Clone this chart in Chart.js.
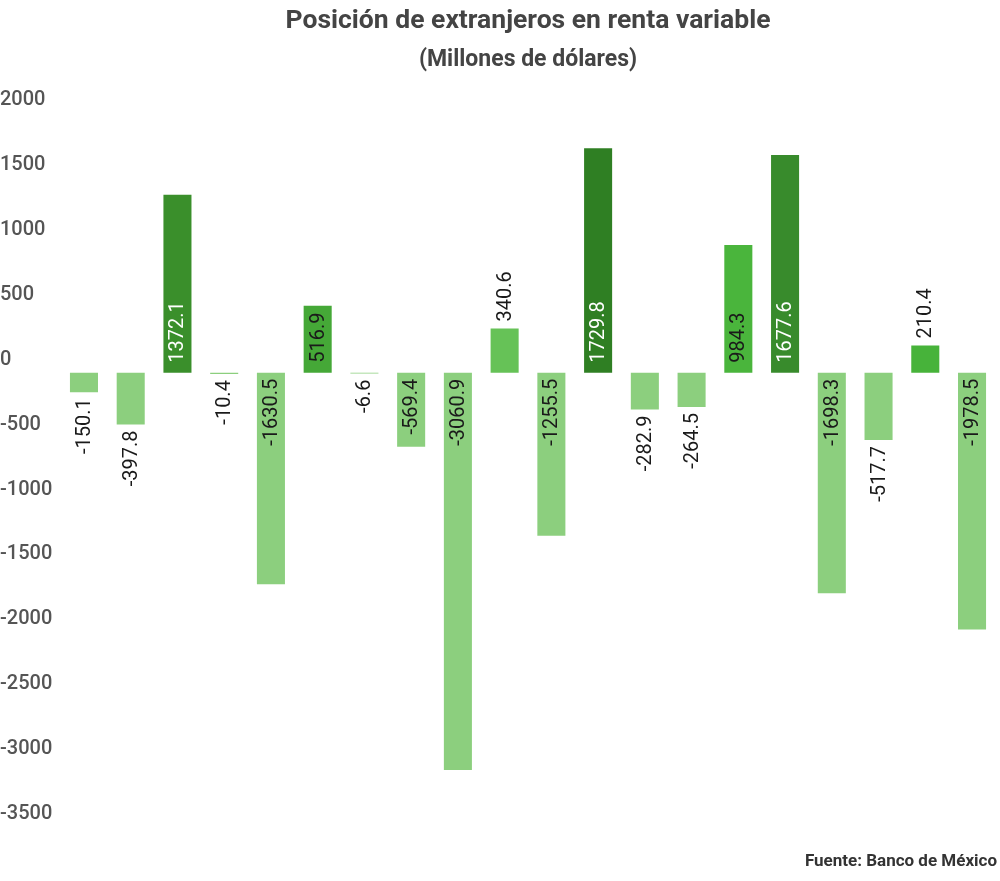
<!DOCTYPE html>
<html lang="es">
<head>
    <meta charset="UTF-8">
    <title>Posición de extranjeros en renta variable</title>
    <script src="https://cdn.jsdelivr.net/npm/chart.js"></script>
    <style>
        html, body { margin: 0; padding: 0; background: #fff; }
        #wrap { width: 1000px; height: 881px; }
    </style>
</head>
<body>
    <div id="wrap"><canvas id="myChart"></canvas></div>

    <script>
        const categories = ['1', '2', '3', '4', '5', '6', '7', '8', '9', '10',
                            '11', '12', '13', '14', '15', '16', '17', '18', '19', '20'];
        const values = [-150.1, -397.8, 1372.1, -10.4, -1630.5, 516.9, -6.6, -569.4, -3060.9, 340.6,
                        -1255.5, 1729.8, -282.9, -264.5, 984.3, 1677.6, -1698.3, -517.7, 210.4, -1978.5];
        const barColors = ['#8ccf7e', '#8ccf7e', '#3a8f2b', '#8ccf7e', '#8ccf7e', '#45a837', '#8ccf7e', '#8ccf7e', '#8ccf7e', '#66c257',
                           '#8ccf7e', '#2f7f23', '#8ccf7e', '#8ccf7e', '#4ab53c', '#388b2c', '#8ccf7e', '#8ccf7e', '#47b33a', '#8ccf7e'];
        const yTicks = { min: -3500, max: 2000, step: 500 };

        const FONT = 'Roboto, "Noto Sans", sans-serif';

        function isDark(hex) {
            const r = parseInt(hex.substr(1, 2), 16);
            const g = parseInt(hex.substr(3, 2), 16);
            const b = parseInt(hex.substr(5, 2), 16);
            return 0.299 * r + 0.587 * g + 0.114 * b < 115;
        }

        // vertical value labels, inside the bar near zero when they fit
        const barLabelPlugin = {
            id: 'barLabelPlugin',
            afterDatasetsDraw(chart) {
                const {ctx} = chart;
                const meta = chart.getDatasetMeta(0);
                const data = chart.data.datasets[0].data;

                ctx.save();
                ctx.font = '20px ' + FONT;
                ctx.textBaseline = 'middle';

                meta.data.forEach((bar, i) => {
                    const v = data[i];
                    const text = v.toFixed(1);
                    const w = ctx.measureText(text).width;
                    const len = Math.abs(bar.base - bar.y);
                    const inside = w + 14 <= len;
                    const pos = v >= 0;
                    let y;
                    if (inside) {
                        y = pos ? bar.base - 10 : bar.base + 6;
                        ctx.fillStyle = isDark(barColors[i]) ? '#ffffff' : '#1a1a1a';
                    } else {
                        y = pos ? bar.y - 7 : bar.y + 6;
                        ctx.fillStyle = '#1a1a1a';
                    }
                    ctx.save();
                    ctx.translate(bar.x, y);
                    ctx.rotate(-Math.PI / 2);
                    ctx.textAlign = pos ? 'left' : 'right';
                    ctx.fillText(text, 0, 1);
                    ctx.restore();
                });
                ctx.restore();
            }
        };

        const sourcePlugin = {
            id: 'sourcePlugin',
            afterDraw(chart) {
                const {ctx} = chart;
                ctx.save();
                ctx.font = 'bold 17px ' + FONT;
                ctx.fillStyle = '#333';
                ctx.textAlign = 'right';
                ctx.textBaseline = 'middle';
                ctx.fillText('Fuente: Banco de México', chart.width - 3, 862);
                ctx.restore();
            }
        };

        const config = {
            type: 'bar',
            data: {
                labels: categories,
                datasets: [{
                    data: values,
                    backgroundColor: barColors,
                    borderWidth: 0,
                    barPercentage: 0.6,
                    categoryPercentage: 1.0
                }]
            },
            options: {
                responsive: true,
                maintainAspectRatio: false,
                animation: false,
                layout: {
                    padding: { left: 0, right: 4.6, top: 0, bottom: 54 }
                },
                scales: {
                    x: {
                        display: false
                    },
                    y: {
                        min: yTicks.min,
                        max: yTicks.max,
                        grid: { display: false },
                        border: { display: false },
                        ticks: {
                            stepSize: yTicks.step,
                            crossAlign: 'far',
                            labelOffset: -13,
                            color: '#555',
                            font: { family: FONT, size: 20, weight: '500' },
                            callback: (v) => String(v)
                        },
                        afterFit(scale) {
                            scale.width = 60.6;
                        }
                    }
                },
                plugins: {
                    legend: { display: false },
                    tooltip: { enabled: false },
                    title: {
                        display: true,
                        fullSize: false,
                        text: 'Posición de extranjeros en renta variable',
                        color: '#444',
                        font: { family: FONT, size: 26.5, weight: 'bold' },
                        padding: { top: 5, bottom: 9.4 }
                    },
                    subtitle: {
                        display: true,
                        fullSize: false,
                        text: '(Millones de dólares)',
                        color: '#444',
                        font: { family: FONT, size: 23, weight: 'bold' },
                        padding: { top: 0, bottom: 39.4 }
                    }
                }
            },
            plugins: [barLabelPlugin, sourcePlugin]
        };

        new Chart(document.getElementById('myChart'), config);
    </script>
</body>
</html>
